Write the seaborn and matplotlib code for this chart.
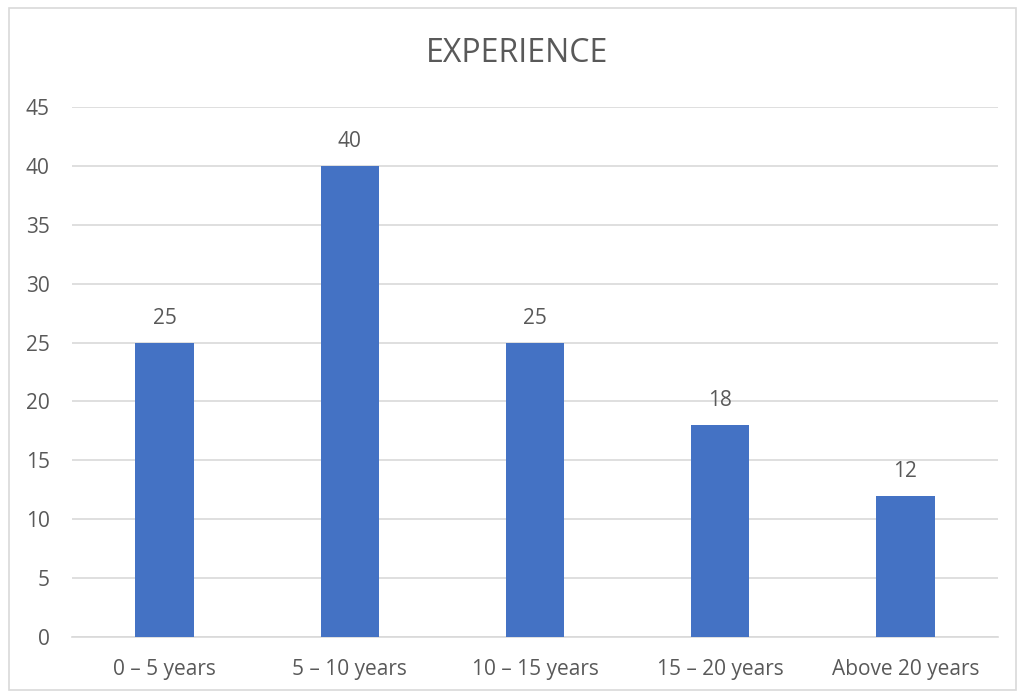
import matplotlib
matplotlib.use("Agg")
import matplotlib.pyplot as plt
import pandas as pd
import seaborn as sns
from matplotlib.patches import Rectangle

categories = ["0 – 5 years", "5 – 10 years", "10 – 15 years", "15 – 20 years", "Above 20 years"]
counts = [25, 40, 25, 18, 12]
y_ticks = [0, 5, 10, 15, 20, 25, 30, 35, 40, 45]

TEXT = "#595959"
BAR = "#4472C4"
GRID = "#D9D9D9"

sns.set_theme(style="white")
plt.rcParams["font.family"] = ["Open Sans", "DejaVu Sans"]

df = pd.DataFrame({"experience": categories, "count": counts})

fig = plt.figure(figsize=(10.17, 6.93), dpi=100)
ax = fig.add_axes([72 / 1017, 1 - 637 / 693, 926 / 1017, 530 / 693])

sns.barplot(data=df, x="experience", y="count", color=BAR, width=0.315,
            saturation=1, linewidth=0, ax=ax, zorder=3)

ax.set_ylim(0, 45)
ax.set_xlim(-0.5, len(categories) - 0.5)
ax.set_yticks(y_ticks)
ax.yaxis.grid(True, color=GRID, linewidth=1.2, zorder=0)
ax.set_axisbelow(True)
for side in ["top", "right", "left"]:
    ax.spines[side].set_visible(False)
ax.spines["bottom"].set_color(GRID)
ax.spines["bottom"].set_linewidth(1.2)
ax.tick_params(axis="both", length=0, colors=TEXT, labelsize=15)
ax.tick_params(axis="y", pad=16)
ax.tick_params(axis="x", pad=16)
ax.set_xlabel("")
ax.set_ylabel("")

for i, v in enumerate(counts):
    ax.annotate(str(v), (i, v), xytext=(0, 10), textcoords="offset points",
                ha="center", va="bottom", color=TEXT, fontsize=15)

fig.text(517 / 1017, 1 - 53 / 693, "EXPERIENCE", ha="center", va="center",
         color=TEXT, fontsize=23)

fig.patches.append(Rectangle((0.009, 0.004), 0.99, 0.984, transform=fig.transFigure,
                             fill=False, edgecolor=GRID, linewidth=1.2))

fig.savefig("out.png", dpi=100)
